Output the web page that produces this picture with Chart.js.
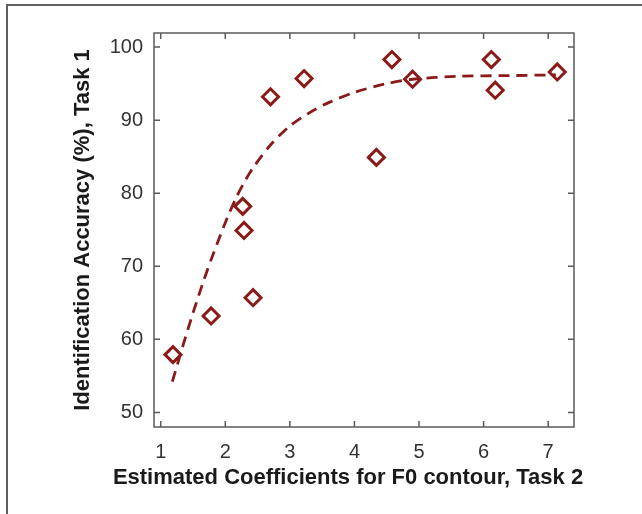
<!DOCTYPE html>
<html><head><meta charset="utf-8">
<script src="https://cdn.jsdelivr.net/npm/chart.js@4"></script>
<style>html,body{margin:0;padding:0;background:#fff}#wrap{width:642px;height:514px;position:relative}</style>
</head><body><div id="wrap"><canvas id="c"></canvas></div>
<script>
const xTitle = "Estimated Coefficients for F0 contour, Task 2";
const yTitle = "Identification Accuracy (%), Task 1";
const xTickValues = [1, 2, 3, 4, 5, 6, 7];
const yTickValues = [50, 60, 70, 80, 90, 100];
const pointX = [1.19, 1.78, 2.27, 2.29, 2.43, 2.70, 3.22, 4.34, 4.58, 4.90, 6.12, 6.18, 7.14];
const pointY = [57.9, 63.2, 78.2, 74.9, 65.7, 93.2, 95.7, 84.9, 98.3, 95.6, 98.3, 94.1, 96.6];
const fitX = [1.18, 1.35, 1.50, 1.66, 1.81, 2.02, 2.18, 2.30, 2.44, 2.70, 3.00, 3.30, 3.60, 4.00, 4.50, 4.90, 5.60, 6.40, 7.12];
const fitY = [54.2, 59.3, 63.6, 67.9, 71.6, 76.4, 79.6, 81.6, 83.6, 86.6, 89.2, 91.0, 92.4, 93.8, 95.0, 95.6, 96.0, 96.1, 96.2];

const RED = '#8a1a18';
const AXIS = '#5a5a5a';
const FONT = "'Liberation Sans', Arial, sans-serif";

const decor = {
  id: 'decor',
  beforeDraw(chart) {
    const ctx = chart.ctx;
    ctx.save();
    ctx.fillStyle = '#fff';
    ctx.fillRect(0, 0, chart.width, chart.height);
    ctx.strokeStyle = '#606060';
    ctx.lineWidth = 2;
    ctx.beginPath();
    ctx.moveTo(7, chart.height);
    ctx.lineTo(7, 5);
    ctx.lineTo(chart.width, 5);
    ctx.stroke();
    ctx.restore();
  },
  afterDraw(chart) {
    const ctx = chart.ctx;
    const a = chart.chartArea;
    const xs = chart.scales.x, ys = chart.scales.y;
    ctx.save();
    ctx.strokeStyle = AXIS;
    ctx.lineWidth = 1.5;
    ctx.strokeRect(a.left, a.top, a.right - a.left, a.bottom - a.top);
    const L = 6;
    ctx.beginPath();
    xs.ticks.forEach(t => {
      const px = xs.getPixelForValue(t.value);
      ctx.moveTo(px, a.bottom); ctx.lineTo(px, a.bottom - L);
      ctx.moveTo(px, a.top); ctx.lineTo(px, a.top + L);
    });
    ys.ticks.forEach(t => {
      const py = ys.getPixelForValue(t.value);
      ctx.moveTo(a.left, py); ctx.lineTo(a.left + L, py);
      ctx.moveTo(a.right, py); ctx.lineTo(a.right - L, py);
    });
    ctx.stroke();
    ctx.fillStyle = '#1a1a1a';
    ctx.font = "bold 22px " + FONT;
    ctx.textAlign = 'center';
    ctx.textBaseline = 'middle';
    ctx.fillText(xTitle, 348, 478);
    ctx.restore();
  }
};

new Chart(document.getElementById('c'), {
  type: 'scatter',
  data: {
    datasets: [
      {
        label: 'fit',
        data: fitX.map((x, i) => ({x, y: fitY[i]})),
        showLine: true,
        borderColor: RED,
        borderWidth: 2.8,
        borderDash: [11, 7],
        tension: 0.3,
        pointRadius: 0,
        fill: false
      },
      {
        label: 'data',
        data: pointX.map((x, i) => ({x, y: pointY[i]})),
        pointStyle: 'rectRot',
        pointRadius: 8,
        pointBorderWidth: 3,
        pointBorderColor: RED,
        pointBackgroundColor: 'rgba(0,0,0,0)',
        showLine: false
      }
    ]
  },
  options: {
    responsive: true,
    maintainAspectRatio: false,
    animation: false,
    devicePixelRatio: 1,
    layout: {padding: {left: 0, top: 33, right: 68, bottom: 0}},
    plugins: {legend: {display: false}, tooltip: {enabled: false}},
    scales: {
      x: {
        type: 'linear',
        min: 0.896,
        max: 7.4,
        afterBuildTicks: s => { s.ticks = xTickValues.map(v => ({value: v})); },
        afterFit: s => { s.height = 87; },
        grid: {display: false, drawTicks: false},
        border: {display: false},
        ticks: {padding: 13, color: '#333', font: {family: FONT, size: 20}, maxRotation: 0, autoSkip: false},
        title: {display: false}
      },
      y: {
        type: 'linear',
        min: 48,
        max: 101.93,
        afterBuildTicks: s => { s.ticks = yTickValues.map(v => ({value: v})); },
        afterFit: s => { s.width = 154; },
        grid: {display: false, drawTicks: false},
        border: {display: false},
        ticks: {padding: 11, color: '#333', font: {family: FONT, size: 20}, autoSkip: false},
        title: {display: true, text: yTitle, color: '#1a1a1a', font: {family: FONT, size: 22, weight: 'bold'}, padding: {top: 70, bottom: 0}}
      }
    }
  },
  plugins: [decor]
});
</script>
</body></html>
